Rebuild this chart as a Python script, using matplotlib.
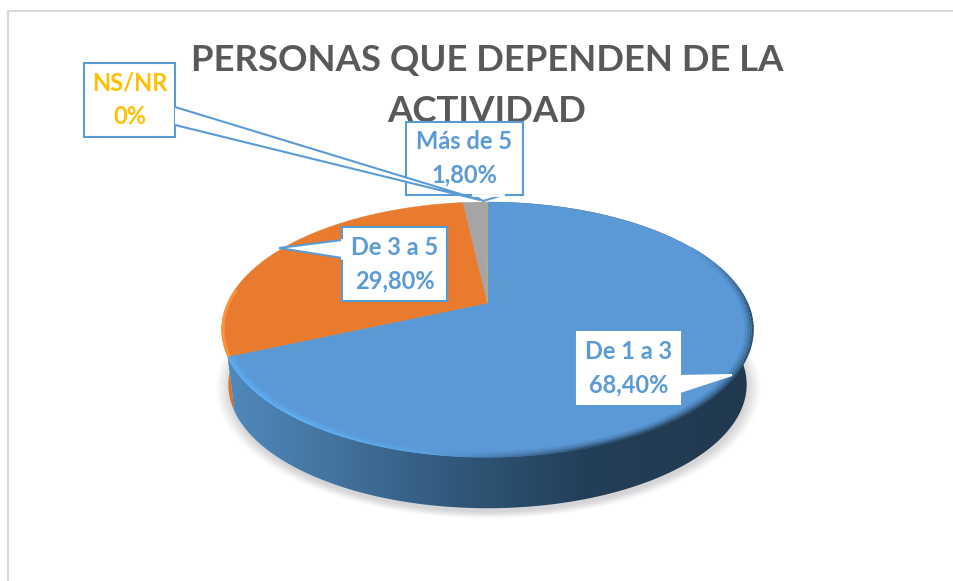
#!/usr/bin/env python3

"""Pie chart with a fake 3D look, drawn in pixel coordinates."""

import numpy as np
import matplotlib
matplotlib.use('Agg')
import matplotlib.pyplot as plt
from matplotlib.patches import Polygon, Rectangle
from matplotlib.colors import LinearSegmentedColormap, to_rgb
from matplotlib.collections import LineCollection

plt.rcParams['font.family'] = ['Lato', 'DejaVu Sans']

title = 'PERSONAS QUE DEPENDEN DE LA\nACTIVIDAD'
categories = ['De 1 a 3', 'De 3 a 5', 'Más de 5', 'NS/NR']
values = [68.4, 29.8, 1.8, 0.0]
value_labels = ['68,40%', '29,80%', '1,80%', '0%']
colors = ['#5a98d6', '#e97b2e', '#a5a5a5', '#ffc000']

# Perspective of the disc, in pixels.
CX, CY = 487.5, 303
A, B, K = 260, 122, 0.208
MID_Y = 330
DEPTH = 55

# Label box (x0, y0, x1, y1) and its callout: tip, then the two base points.
boxes = [
    (577, 332, 680, 404),
    (342, 227, 447, 301),
    (406, 122, 523, 195),
    (84, 63, 175, 137),
]
tips = [
    ((732, 375), (680, 376), (680, 392)),
    ((279, 248), (342, 240), (342, 258)),
    ((483, 201), (473, 195), (503, 195)),
    ((480, 200), (175, 107), (175, 125)),
]
label_colors = ['#5b9bd5', '#5b9bd5', '#5b9bd5', '#ffc000']
edge_colors = ['white', '#5b9bd5', '#5b9bd5', '#5b9bd5']


def top_xy(theta, r=1.0):
    """Project an angle (clockwise from 12 o'clock, degrees) on the top face."""
    t = np.radians(theta)
    u, v = r * np.sin(t), r * np.cos(t)
    w = 1 + K * v
    return CX + A * u / w, CY - B * v / w


def bottom_xy(theta):
    x, y = top_xy(theta)
    return CX + (x - CX) * 0.975, MID_Y + (y - MID_Y) * 0.97 + DEPTH


fig = plt.figure(figsize=(9.54, 5.81), dpi=100)
ax = fig.add_axes([0, 0, 1, 1])
ax.axis('off')

# chart frame
ax.plot([8, 8, 954], [581, 11, 11], color='#d9d9d9', lw=1.5, zorder=1)

# soft shadow below the disc
all_theta = np.linspace(0, 360, 361)
bx, by = bottom_xy(all_theta)
for grow, alpha in zip([1.05, 1.04, 1.03, 1.02, 1.01, 1.0], [0.03, 0.04, 0.05, 0.05, 0.05, 0.05]):
    ax.add_patch(Polygon(np.column_stack([CX + 1 + (bx - CX) * grow, MID_Y + DEPTH + 4 + (by - MID_Y - DEPTH) * grow]),
                         fc='#60606a', ec='none', alpha=alpha, zorder=2))

# slice angles
edges = np.concatenate([[0], np.cumsum(values)]) * 3.6

# side walls, orange one first, with a shading along x
side_stops = [
    [(0, '#508abf'), (0.2, '#44749f'), (0.45, '#2f5779'), (0.68, '#243f59'), (1, '#21394f')],
    [(0, '#f08232'), (1, '#c9661f')],
]
grad = np.linspace(0, 1, 256)[None, :]
for i, stops in zip([1, 0], [side_stops[1], side_stops[0]]):
    th = np.linspace(edges[i], edges[i + 1], 200)
    tx, ty = top_xy(th)
    sx, sy = bottom_xy(th)
    wall = Polygon(np.column_stack([np.r_[tx, sx[::-1]], np.r_[ty, sy[::-1]]]), fc='none', ec='none')
    ax.add_patch(wall)
    cmap = LinearSegmentedColormap.from_list('side%d' % i, stops)
    extent = (222, 752, 520, 200) if i == 0 else (220, 240, 420, 320)
    im = ax.imshow(grad, extent=extent, cmap=cmap, aspect='auto', zorder=3)
    im.set_clip_path(wall)

# top face
for i in range(len(values)):
    th = np.linspace(edges[i], edges[i + 1], 200)
    x, y = top_xy(th)
    ax.add_patch(Polygon(np.column_stack([np.r_[CX, x], np.r_[CY, y]]), fc=colors[i], ec=colors[i], lw=0.3, zorder=4))

# bevel along the rim of the blue and orange slices
dark, light = np.array(to_rgb('#23405a')), np.array(to_rgb('#62b4f8'))
base = np.array(to_rgb(colors[0]))
for r, strength in zip([0.998, 0.99, 0.982, 0.974], [0.9, 0.6, 0.35, 0.15]):
    th = np.linspace(60, edges[1], 300)
    x, y = top_xy(th, r)
    pts = np.column_stack([x, y])
    segs = np.stack([pts[:-1], pts[1:]], axis=1)
    mid = th[:-1]
    to_dark = np.clip((mid - 60) / 35, 0, 1) * np.clip((190 - mid) / 30, 0, 1)
    to_light = np.clip((mid - 175) / 40, 0, 1)
    cols = base + (dark - base) * (to_dark * strength)[:, None] + (light - base) * (to_light * strength)[:, None]
    ax.add_collection(LineCollection(segs, colors=cols, lw=1.4, zorder=5))
th = np.linspace(edges[1], edges[1] + 30, 60)
x, y = top_xy(th, 0.995)
ax.plot(x, y, color='#ff9a3e', lw=2.2, alpha=0.8, zorder=5, solid_capstyle='butt')

# title goes under the label boxes
ax.text(487, 86, title, ha='center', va='center', fontsize=26.3, fontweight='bold', color='#595959',
        linespacing=1.65, zorder=6)

# label boxes, the NS/NR one ends up on top
for i in range(len(categories)):
    x0, y0, x1, y1 = boxes[i]
    ax.add_patch(Rectangle((x0, y0), x1 - x0, y1 - y0, fc='white', ec=edge_colors[i], lw=1.5, zorder=7 + i))
    tip, p0, p1 = tips[i]
    ax.add_patch(Polygon([p0, tip, p1], closed=False, fc='white', ec=edge_colors[i], lw=1.5, zorder=7 + i,
                         joinstyle='miter'))
    if edge_colors[i] != 'white' and i != 3:
        # hide the box edge under the callout mouth
        ax.plot([p0[0], p1[0]], [p0[1], p1[1]], color='white', lw=2, zorder=7 + i)
    ax.text((x0 + x1) / 2, (y0 + y1) / 2, categories[i] + '\n' + value_labels[i], ha='center', va='center',
            fontsize=17, fontweight='bold', color=label_colors[i], linespacing=1.55, zorder=7 + i)

ax.set_xlim(0, 954)
ax.set_ylim(581, 0)
fig.savefig('out.png', dpi=100, facecolor='white')
